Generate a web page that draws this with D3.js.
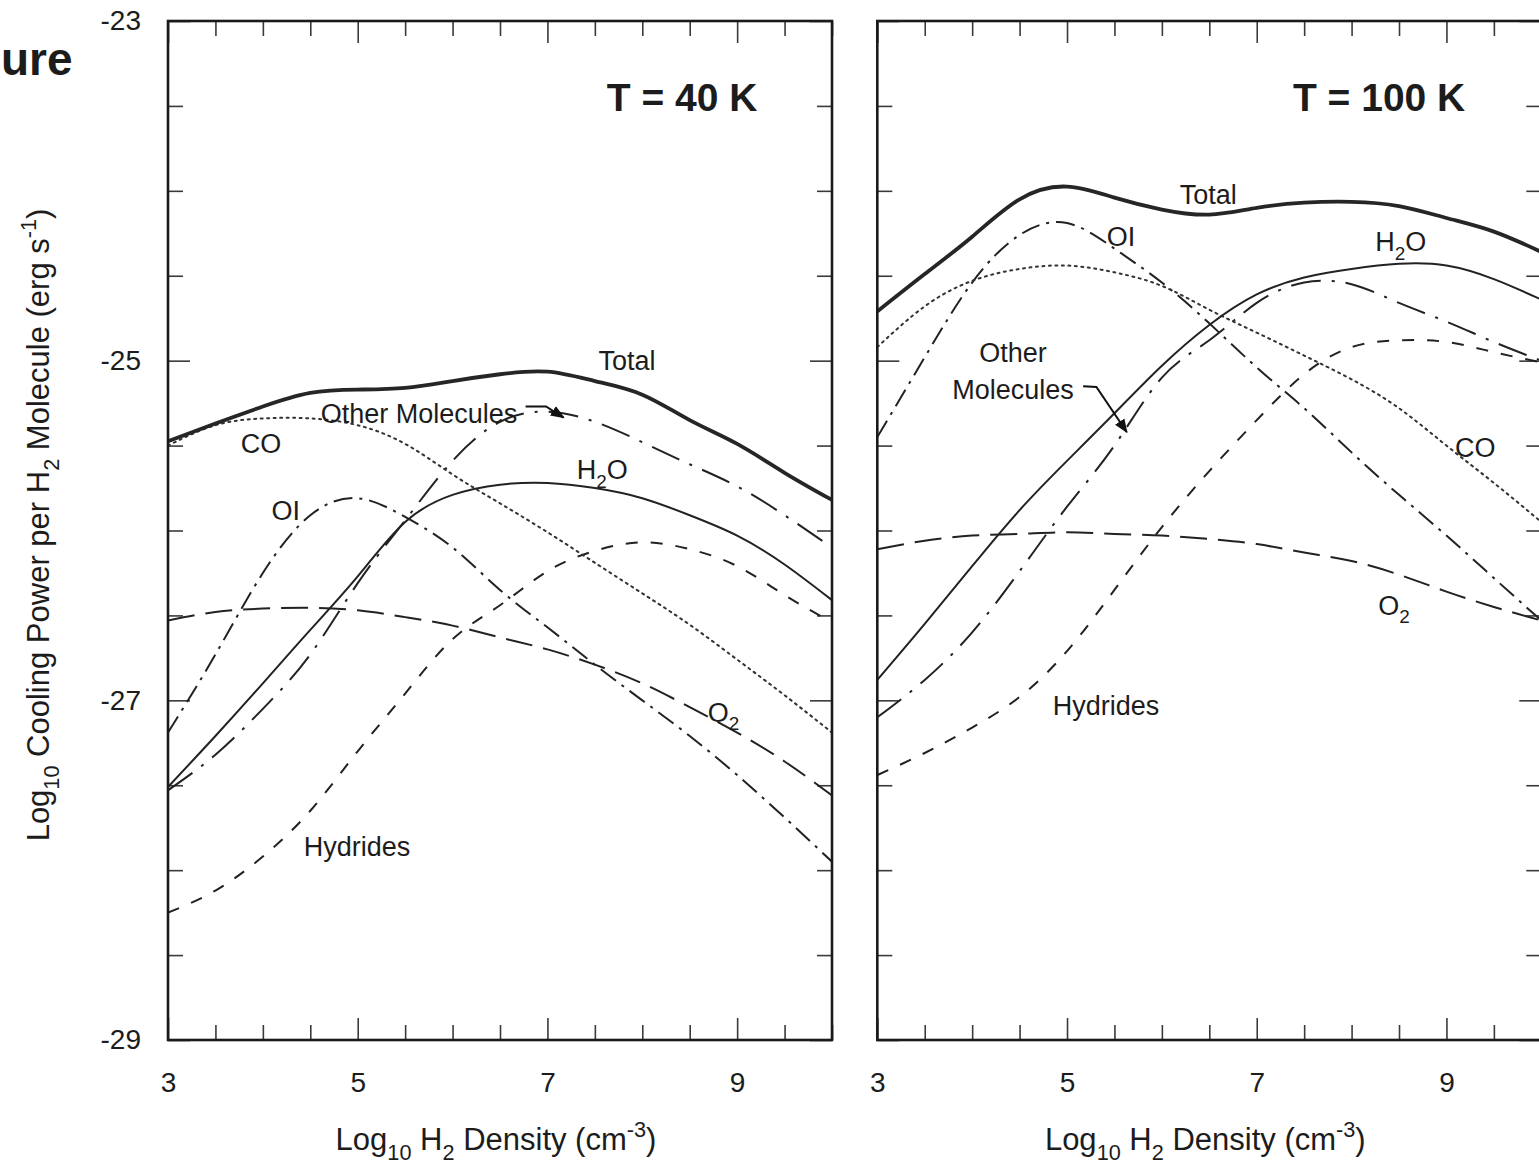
<!DOCTYPE html>
<html><head><meta charset="utf-8">
<script src="https://cdn.jsdelivr.net/npm/d3@7"></script>
<style>
body{margin:0;background:#fff;}
svg{display:block;}
text{font-family:"Liberation Sans",Arial,Helvetica,sans-serif;fill:#1c1c1c;}
</style>
</head><body>
<svg id="c" width="1539" height="1165"></svg>
<script>
// ---------- data ----------
const density = [3,3.5,4,4.5,5,5.5,6,6.5,7,7.5,8,8.5,9,9.5,10];
const xTickLabels = [3,5,7,9];
const yTickLabels = [-23,-25,-27,-29];
const panelTitles = ["T = 40 K","T = 100 K"];

// T = 40 K  (log10 cooling power, erg s^-1)
const total40    = [-25.475,-25.37,-25.27,-25.19,-25.17,-25.16,-25.12,-25.08,-25.065,-25.12,-25.20,-25.35,-25.49,-25.66,-25.82];
const co40       = [-25.50,-25.38,-25.34,-25.34,-25.38,-25.49,-25.67,-25.84,-26.01,-26.19,-26.37,-26.555,-26.76,-26.97,-27.19];
const h2o40      = [-27.51,-27.21,-26.90,-26.585,-26.27,-25.95,-25.79,-25.73,-25.72,-25.75,-25.81,-25.91,-26.03,-26.20,-26.41];
const oi40       = [-27.19,-26.73,-26.25,-25.91,-25.81,-25.92,-26.10,-26.35,-26.57,-26.79,-27.00,-27.21,-27.44,-27.69,-27.95];
const other40    = [-27.53,-27.32,-27.05,-26.73,-26.31,-25.94,-25.59,-25.36,-25.30,-25.36,-25.48,-25.61,-25.74,-25.91,-26.10];
const o2_40      = [-26.53,-26.48,-26.46,-26.455,-26.47,-26.51,-26.56,-26.63,-26.70,-26.79,-26.90,-27.04,-27.19,-27.36,-27.56];
const hydrides40 = [-28.25,-28.12,-27.92,-27.65,-27.30,-26.96,-26.64,-26.44,-26.24,-26.12,-26.07,-26.11,-26.21,-26.38,-26.54];

// T = 100 K
const total100    = [-24.71,-24.49,-24.27,-24.05,-23.975,-24.04,-24.11,-24.14,-24.10,-24.07,-24.065,-24.09,-24.16,-24.24,-24.36];
const co100       = [-24.92,-24.68,-24.53,-24.46,-24.44,-24.48,-24.56,-24.70,-24.835,-24.97,-25.11,-25.28,-25.50,-25.72,-25.95];
const h2o100      = [-26.88,-26.55,-26.21,-25.88,-25.59,-25.31,-25.03,-24.79,-24.61,-24.51,-24.46,-24.43,-24.44,-24.52,-24.64];
const oi100       = [-25.45,-24.98,-24.54,-24.26,-24.19,-24.34,-24.54,-24.78,-25.04,-25.28,-25.54,-25.79,-26.03,-26.28,-26.53];
const other100    = [-27.10,-26.88,-26.60,-26.24,-25.86,-25.50,-25.10,-24.88,-24.66,-24.54,-24.55,-24.66,-24.77,-24.89,-25.00];
const o2_100      = [-26.11,-26.06,-26.03,-26.02,-26.01,-26.02,-26.03,-26.05,-26.08,-26.13,-26.18,-26.26,-26.36,-26.45,-26.53];
const hydrides100 = [-27.44,-27.31,-27.16,-26.98,-26.71,-26.35,-25.98,-25.65,-25.35,-25.08,-24.92,-24.88,-24.89,-24.95,-25.01];

// curve labels (data coords: x, y, anchor)
const labels40 = [
  {t:[["Total"]], x:7.84, y:-25.0, a:"middle"},
  {t:[["Other Molecules"]], x:4.61, y:-25.31, a:"start"},
  {t:[["CO"]], x:3.98, y:-25.49, a:"middle"},
  {t:[["H"],["2","sub"],["O"]], x:7.31, y:-25.64, a:"start"},
  {t:[["OI"]], x:4.09, y:-25.88, a:"start"},
  {t:[["O"],["2","sub"]], x:8.69, y:-27.07, a:"start"},
  {t:[["Hydrides"]], x:4.43, y:-27.86, a:"start"}
];
const labels100 = [
  {t:[["Total"]], x:6.49, y:-24.02, a:"middle"},
  {t:[["OI"]], x:5.42, y:-24.27, a:"start"},
  {t:[["H"],["2","sub"],["O"]], x:8.25, y:-24.30, a:"start"},
  {t:[["Other"]], x:4.43, y:-24.95, a:"middle"},
  {t:[["Molecules"]], x:4.43, y:-25.17, a:"middle"},
  {t:[["CO"]], x:9.09, y:-25.51, a:"start"},
  {t:[["O"],["2","sub"]], x:8.28, y:-26.44, a:"start"},
  {t:[["Hydrides"]], x:4.85, y:-27.03, a:"start"}
];
const arrow40  = [[6.77,-25.27],[6.985,-25.27],[7.17,-25.335]];
const arrow100 = [[5.17,-25.15],[5.31,-25.155],[5.63,-25.42]];

// ---------- drawing ----------
const svg = d3.select("#c");
const y = d3.scaleLinear().domain([-29,-23]).range([1040,21]);
const ink = "#1c1c1c";

const styles = {
  total:{w:3.8, dash:null, c:"#262626"},
  co:{w:2, dash:"2,4.5", c:"#333"},
  h2o:{w:2, dash:null, c:"#222"},
  oi:{w:2, dash:"19,7,3,7", c:"#222"},
  other:{w:2, dash:"30,11,3,11", c:"#222"},
  o2:{w:2, dash:"27,11", c:"#222"},
  hyd:{w:2, dash:"12,13", c:"#222"}
};

const panels = [
  {x:d3.scaleLinear().domain([3,10]).range([168,832]), title:panelTitles[0], tx:8.42,
   series:{total:total40,co:co40,h2o:h2o40,oi:oi40,other:other40,o2:o2_40,hyd:hydrides40},
   labels:labels40, arrow:arrow40, ylab:true},
  {x:d3.scaleLinear().domain([3,10]).range([877.3,1541.3]), title:panelTitles[1], tx:8.29,
   series:{total:total100,co:co100,h2o:h2o100,oi:oi100,other:other100,o2:o2_100,hyd:hydrides100},
   labels:labels100, arrow:arrow100, ylab:false}
];

function rich(g, x, yy, parts, size, anchor, weight){
  const t = g.append("text").attr("x",x).attr("y",yy).attr("font-size",size)
    .attr("text-anchor",anchor).attr("font-weight",weight||"normal");
  let shift = 0;
  parts.forEach(([s,k])=>{
    const ts = t.append("tspan").text(s);
    const target = k==="sub" ? 0.32*size : (k==="sup" ? -0.42*size : 0);
    ts.attr("dy", target-shift);
    shift = target;
    if(k) ts.attr("font-size", size*0.7);
  });
  return t;
}

svg.append("defs").append("marker").attr("id","ah")
  .attr("viewBox","0 0 10 10").attr("refX",9).attr("refY",5)
  .attr("markerWidth",7).attr("markerHeight",7).attr("orient","auto")
  .append("path").attr("d","M0,1 L10,5 L0,9 Z").attr("fill","#111");

const minorX = d3.range(3,10.01,0.5).filter(v=>!xTickLabels.includes(v));
const minorY = d3.range(-29,-22.99,0.5).filter(v=>!yTickLabels.includes(v));
const plain = d => String(d);

panels.forEach((p,i)=>{
  const x = p.x;
  const g = svg.append("g");
  const x0=x(3), x1=x(10), yT=y(-23), yB=y(-29);
  const cid = "clip"+i;
  svg.select("defs").append("clipPath").attr("id",cid)
    .append("rect").attr("x",x0).attr("y",yT).attr("width",x1-x0).attr("height",yB-yT);

  const styleAxis = sel => { sel.select(".domain").remove();
    sel.selectAll("line").attr("stroke","#3a3a3a").attr("stroke-width",1.6); };
  const styleText = sel => sel.selectAll("text").attr("font-size",28).attr("fill",ink)
      .style("font-family",'"Liberation Sans",Arial,sans-serif');

  g.append("g").attr("transform",`translate(0,${yB})`)
    .call(d3.axisBottom(x).tickValues(minorX).tickSize(-15).tickFormat("")).call(styleAxis);
  g.append("g").attr("transform",`translate(0,${yB})`)
    .call(d3.axisBottom(x).tickValues(xTickLabels).tickSize(-22).tickPadding(32).tickFormat(plain))
    .call(styleAxis).call(styleText);
  g.append("g").attr("transform",`translate(0,${yT})`)
    .call(d3.axisTop(x).tickValues(minorX).tickSize(-15).tickFormat("")).call(styleAxis);
  g.append("g").attr("transform",`translate(0,${yT})`)
    .call(d3.axisTop(x).tickValues(xTickLabels).tickSize(-22).tickFormat("")).call(styleAxis);
  [[x0,d3.axisLeft],[x1,d3.axisRight]].forEach(([xx,ax],j)=>{
    g.append("g").attr("transform",`translate(${xx},0)`)
      .call(ax(y).tickValues(minorY).tickSize(-15).tickFormat("")).call(styleAxis);
    g.append("g").attr("transform",`translate(${xx},0)`)
      .call(ax(y).tickValues(yTickLabels).tickSize(-22).tickPadding(27)
        .tickFormat((p.ylab && j===0) ? plain : ""))
      .call(styleAxis).call(styleText);
  });

  // curves
  const line = d3.line().x(d=>x(d[0])).y(d=>y(d[1])).curve(d3.curveNatural);
  const cg = g.append("g").attr("clip-path",`url(#${cid})`);
  ["o2","hyd","oi","other","co","h2o","total"].forEach(k=>{
    const st = styles[k];
    cg.append("path").datum(density.map((d,j)=>[d,p.series[k][j]]))
      .attr("d",line).attr("fill","none").attr("stroke",st.c)
      .attr("stroke-width",st.w).attr("stroke-dasharray",st.dash)
      .attr("stroke-linecap", k==="co" ? "round" : "butt")
      .attr("stroke-linejoin","round");
  });

  // frame
  g.append("rect").attr("x",x0).attr("y",yT).attr("width",x1-x0).attr("height",yB-yT)
    .attr("fill","none").attr("stroke","#1a1a1a").attr("stroke-width",2.6);

  // labels
  p.labels.forEach(l=>{
    rich(g, x(l.x), y(l.y)+9.5, l.t, 27, l.a);
  });
  // arrow
  g.append("path").datum(p.arrow)
    .attr("d", d3.line().x(d=>x(d[0])).y(d=>y(d[1])))
    .attr("fill","none").attr("stroke","#111").attr("stroke-width",2)
    .attr("marker-end","url(#ah)");

  // panel title
  g.append("text").attr("x",x(p.tx)).attr("y",y(-23.45)+14)
    .attr("text-anchor","middle").attr("font-size",39).attr("font-weight","bold")
    .text(p.title);

  // x axis title
  rich(g, (x0+x1)/2 - 4, 1150, [["Log"],["10","sub"],[" H"],["2","sub"],[" Density (cm"],["-3","sup"],[")"]], 31, "middle");
});

// y axis title
const yt = svg.append("g").attr("transform","translate(49,525) rotate(-90)");
rich(yt, 0, 0, [["Log"],["10","sub"],[" Cooling Power per H"],["2","sub"],[" Molecule (erg s"],["-1","sup"],[")"]], 31, "middle");

// heading fragment visible at the top-left corner
svg.append("text").attr("x",1).attr("y",75).attr("text-anchor","start")
  .attr("font-size",46).attr("font-weight","bold").attr("fill","#000").text("ure");
</script>
</body></html>
